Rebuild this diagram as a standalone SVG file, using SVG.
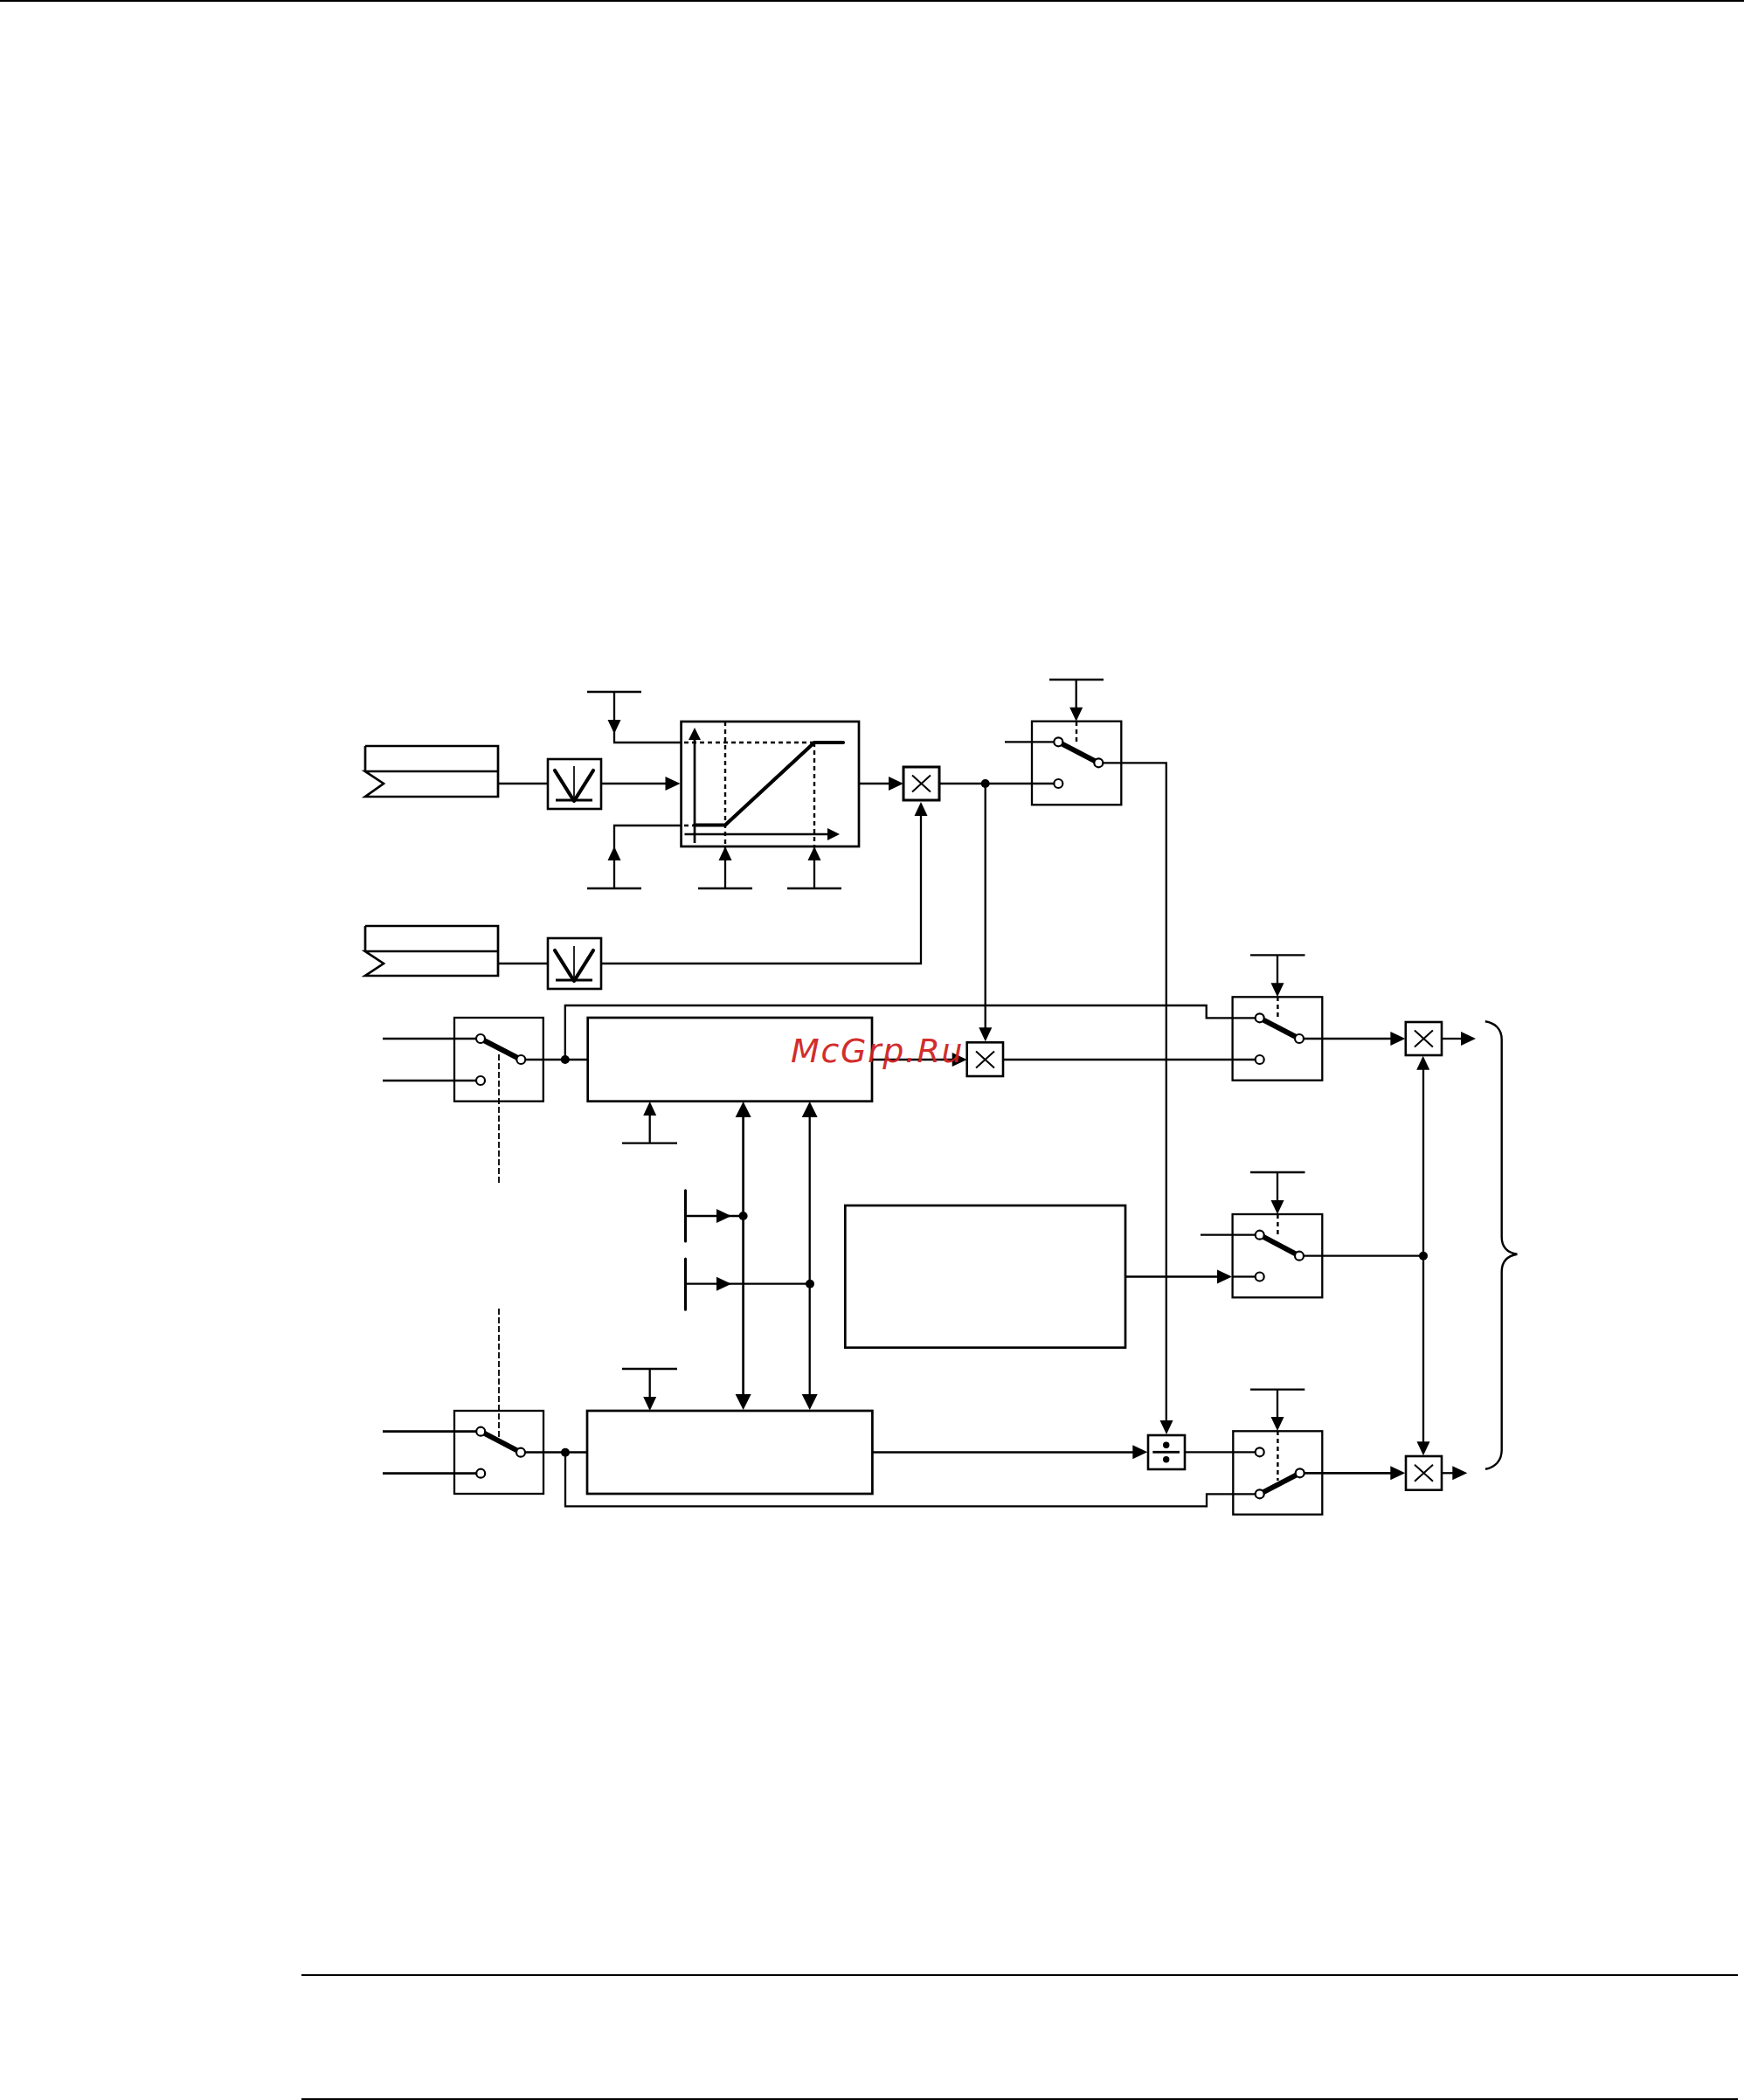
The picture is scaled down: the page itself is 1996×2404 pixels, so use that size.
<svg xmlns="http://www.w3.org/2000/svg" width="1996" height="2404" viewBox="0 0 1996 2404">
<style>
.b{fill:#fff;stroke:#000;stroke-width:2.600}
.l{fill:none;stroke:#000;stroke-width:2.300;stroke-linejoin:miter}
.h{fill:none;stroke:#000;stroke-width:2.700}
.t{fill:none;stroke:#000;stroke-width:4.200;stroke-linecap:round;stroke-linejoin:round}
.s{fill:none;stroke:#000;stroke-width:6;stroke-linecap:butt}
.d{fill:none;stroke:#000;stroke-width:2.400;stroke-dasharray:5 4}
.dl{fill:none;stroke:#000;stroke-width:1.800;stroke-dasharray:7 3}
.o{fill:#fff;stroke:#000;stroke-width:2.200}
.j{fill:#000}
.a{fill:#000}
.wm{font-family:"DejaVu Sans",sans-serif;font-style:italic;font-size:38px;letter-spacing:1.600px;fill:#cf2020;fill-opacity:.95}
</style>
<defs>
<path id="ad" d="M-7.500-16H7.500L0 0Z"/>
<path id="au" d="M-7.500 16H7.500L0 0Z"/>
<path id="ar" d="M-17-8V8L0 0Z"/>
<path id="adL" d="M-9-18H9L0 0Z"/>
<path id="auL" d="M-9 18H9L0 0Z"/>
<g id="xs"><path d="M-10.500-9.500L10.500 9.500M-10.500 9.500L10.500-9.500" fill="none" stroke="#000" stroke-width="2"/></g>
<g id="vs"><path d="M-22-15L0 20L22-15" class="t"/><path d="M0-20V20" fill="none" stroke="#000" stroke-width="1.700"/><path d="M-21 19H21" fill="none" stroke="#000" stroke-width="2.800"/></g>
</defs>
<rect width="1996" height="2404" fill="#fff"/>
<g id="page-rules">
<rect x="0" y="0" width="1996" height="2"/>
<rect x="345" y="2260" width="1644" height="2"/>
<rect x="345" y="2402" width="1644" height="2"/>
</g>
<g id="connectors">
<path class="l" d="M703 792V850H780"/>
<path class="l" d="M672 792H734"/>
<path class="h" d="M570 897H627M688 897H763"/>
<path class="l" d="M703 1017V945H780"/>
<path class="l" d="M672 1017H734M799 1017H861M901 1017H963"/>
<path class="l" d="M830 969V1017M932 969V1017"/>
<path class="h" d="M983 897H1020M1075 897H1211"/>
<path class="l" d="M570 1103H627M688 1103H1054V933"/>
<path class="l" d="M1127.700 897V1178"/>
<path class="l" d="M1201 778H1263M1231.700 778V812M1150 849.300H1206"/>
<path class="l" d="M1262 873.300H1334.800V1628"/>
<path class="l" d="M438 1189H545M438 1237H545"/>
<path class="l" d="M601 1213H672.700M646.800 1213V1151H1380.700V1165.300H1437"/>
<path class="l" d="M998 1213H1090"/>
<path class="l" d="M712 1308.700H775M743.700 1308.700V1276"/>
<path class="h" d="M850.600 1278V1597"/>
<path class="l" d="M926.700 1278V1598"/>
<path class="l" d="M784.500 1392H850.600M784.500 1469.700H926.700"/>
<path class="t" d="M784.500 1362.700V1421M784.500 1441V1499.300" style="stroke-width:3"/>
<path class="l" d="M712 1567H775M743.700 1567V1600"/>
<path class="h" d="M998.400 1662.500H1297"/>
<path class="l" d="M601 1662.500H672M647 1662.500V1724.300H1381V1710.300H1437"/>
<path class="h" d="M438 1638.700H545M438 1686.700H545"/>
<path class="l" d="M1148 1213H1437"/>
<path class="l" d="M1431 1093.300H1493.500M1462 1093.300V1127"/>
<path class="l" d="M1492 1189H1592"/>
<path class="l" d="M1650 1189H1673"/>
<path class="l" d="M1431 1342H1493.500M1462 1342V1376M1374 1413.700H1437"/>
<path class="h" d="M1288 1461.500H1394"/>
<path class="l" d="M1410 1461.500H1437"/>
<path class="l" d="M1492 1437.700H1629"/>
<path class="l" d="M1629 1224V1651"/>
<path class="l" d="M1356 1662.300H1437"/>
<path class="l" d="M1431 1590.700H1493.300M1462 1590.700V1624"/>
<path class="h" d="M1492 1686.300H1592"/>
<path class="l" d="M1650 1686.300H1663"/>
<use href="#ad" x="703" y="840"/>
<use href="#ar" x="778.500" y="897"/>
<use href="#au" x="703" y="969"/>
<use href="#au" x="830" y="969"/>
<use href="#au" x="932" y="969"/>
<use href="#ar" x="1034" y="897"/>
<use href="#au" x="1054" y="918"/>
<use href="#ad" x="1231.700" y="825.700"/>
<use href="#ad" x="1127.800" y="1192.300"/>
<use href="#ar" x="1106.700" y="1213"/>
<use href="#au" x="743.700" y="1261"/>
<use href="#auL" x="850.600" y="1261"/>
<use href="#auL" x="926.700" y="1261"/>
<use href="#ar" x="837" y="1392"/>
<use href="#ar" x="837" y="1469.700"/>
<use href="#adL" x="850.600" y="1614"/>
<use href="#adL" x="926.700" y="1614"/>
<use href="#ad" x="743.700" y="1615"/>
<use href="#ar" x="1313.300" y="1662.300"/>
<use href="#ad" x="1335" y="1642"/>
<use href="#ad" x="1462" y="1141.300"/>
<use href="#ar" x="1608.400" y="1189"/>
<use href="#ar" x="1689" y="1189"/>
<use href="#au" x="1628.700" y="1208.700"/>
<use href="#ad" x="1462" y="1390"/>
<use href="#ar" x="1410" y="1461.500"/>
<use href="#ad" x="1462" y="1638"/>
<use href="#ar" x="1608.300" y="1686.300"/>
<use href="#ar" x="1679.300" y="1686.300"/>
<use href="#ad" x="1629" y="1666.300"/>
<circle class="j" cx="1127.700" cy="897" r="5"/>
<circle class="j" cx="646.800" cy="1213" r="5"/>
<circle class="j" cx="850.600" cy="1392" r="5"/>
<circle class="j" cx="927" cy="1469.700" r="5"/>
<circle class="j" cx="647" cy="1662.700" r="5"/>
<circle class="j" cx="1629" cy="1437.700" r="5"/>
<path class="l" style="stroke-width:2.400" d="M1699.800 1169.300C1711 1171 1718.700 1178 1718.700 1190V1416C1718.700 1428 1725 1434 1736.400 1435.700C1725 1437.500 1718.700 1444 1718.700 1456V1660C1718.700 1672 1711 1680 1700 1681.700"/>
</g>
<g id="storage-1">
<path class="h" d="M418 854H570V912H418L439 897L418 883H570"/><path class="h" d="M418 854V883"/>
</g>
<g id="storage-2">
<path class="h" d="M418 1060H570V1117H418L439 1103L418 1089H570"/><path class="h" d="M418 1060V1089"/>
</g>
<g id="filter-1"><rect class="b" x="627" y="869" width="61" height="57"/><use href="#vs" x="657" y="897"/></g>
<g id="filter-2"><rect class="b" x="627" y="1074" width="61" height="58"/><use href="#vs" x="657" y="1103"/></g>
<g id="ramp">
<rect class="h" x="779.600" y="826" width="203.400" height="143"/>
<path class="d" d="M783 850H932M783 945H795M830 826V969M932 850V969"/>
<path class="h" d="M795 965V845M783.500 955H950"/>
<path class="a" d="M788 847H802L795 833Z"/><path class="a" d="M947 948V962L961 955Z"/>
<path class="t" d="M795 944.500H830L932 850H965"/>
</g>
<g id="mult-1"><rect class="b" x="1034" y="878" width="41" height="38" style="stroke-width:3"/><use href="#xs" x="1054.500" y="897"/></g>
<g id="mult-2"><rect class="b" x="1106.700" y="1193.300" width="41.300" height="38.700"/><use href="#xs" x="1127.500" y="1213"/></g>
<g id="mult-3"><rect class="b" x="1608.800" y="1170" width="41.200" height="38"/><use href="#xs" x="1629.400" y="1189"/></g>
<g id="mult-4"><rect class="b" x="1609" y="1667" width="41" height="38.700"/><use href="#xs" x="1629.500" y="1686.300"/></g>
<g id="div">
<rect class="b" x="1314" y="1643" width="42" height="39"/>
<path d="M1319.300 1662.300H1350" fill="none" stroke="#000" stroke-width="2.800"/>
<circle class="j" cx="1334.700" cy="1654.300" r="3.700"/><circle class="j" cx="1334.700" cy="1670.700" r="3.700"/>
</g>
<g id="main-1"><rect class="h" x="672.700" y="1165" width="325.300" height="95.700"/></g>
<g id="main-2"><rect class="h" x="672" y="1615" width="326.400" height="95"/></g>
<g id="big"><rect class="h" x="967.300" y="1380" width="320.700" height="162.700"/></g>
<g id="switch-top">
<rect class="l" x="1181" y="825.700" width="102.300" height="95.600"/>
<path class="d" d="M1232 826V852"/>
<path class="s" d="M1211.300 849.300L1257.300 873.300"/>
<circle class="o" cx="1211.300" cy="849.300" r="5"/><circle class="o" cx="1257.300" cy="873.300" r="5"/><circle class="o" cx="1211.300" cy="897" r="5"/>
</g>
<g id="switch-l1">
<rect class="l" x="520" y="1165" width="101.800" height="95.700"/>
<path class="dl" d="M571 1207V1356"/>
<path class="s" d="M550 1189L596.300 1213"/>
<circle class="o" cx="550" cy="1189" r="5"/><circle class="o" cx="596.300" cy="1213" r="5"/><circle class="o" cx="550" cy="1237" r="5"/>
</g>
<g id="switch-l2">
<rect class="l" x="520" y="1615" width="102" height="95"/>
<path class="dl" d="M571 1498V1645"/>
<path class="s" d="M550.200 1638.700L596 1662.700"/>
<circle class="o" cx="550.200" cy="1638.700" r="5"/><circle class="o" cx="596" cy="1662.700" r="5"/><circle class="o" cx="550.200" cy="1686.700" r="5"/>
</g>
<g id="switch-r1">
<rect class="l" x="1410.600" y="1141.300" width="102.700" height="95.400"/>
<path class="d" d="M1462.400 1141V1168"/>
<path class="s" d="M1441.700 1165.300L1487 1189"/>
<circle class="o" cx="1441.700" cy="1165.300" r="5"/><circle class="o" cx="1487" cy="1189" r="5"/><circle class="o" cx="1441.700" cy="1213" r="5"/>
</g>
<g id="switch-r2">
<rect class="l" x="1410.600" y="1390" width="102.700" height="95.300"/>
<path class="d" d="M1462.400 1390V1417"/>
<path class="s" d="M1441.700 1413.700L1487 1437.700"/>
<circle class="o" cx="1441.700" cy="1413.700" r="5"/><circle class="o" cx="1487" cy="1437.700" r="5"/><circle class="o" cx="1441.700" cy="1461.500" r="5"/>
</g>
<g id="switch-r3">
<rect class="l" x="1411.300" y="1638.300" width="102" height="95.400"/>
<path class="d" d="M1462.400 1638V1695"/>
<path class="s" d="M1441.700 1710.300L1487.700 1686.300"/>
<circle class="o" cx="1441.700" cy="1662.300" r="5"/><circle class="o" cx="1487.700" cy="1686.300" r="5"/><circle class="o" cx="1441.700" cy="1710.300" r="5"/>
</g>
<text class="wm" x="905" y="1216">McGrp.Ru</text>
</svg>
